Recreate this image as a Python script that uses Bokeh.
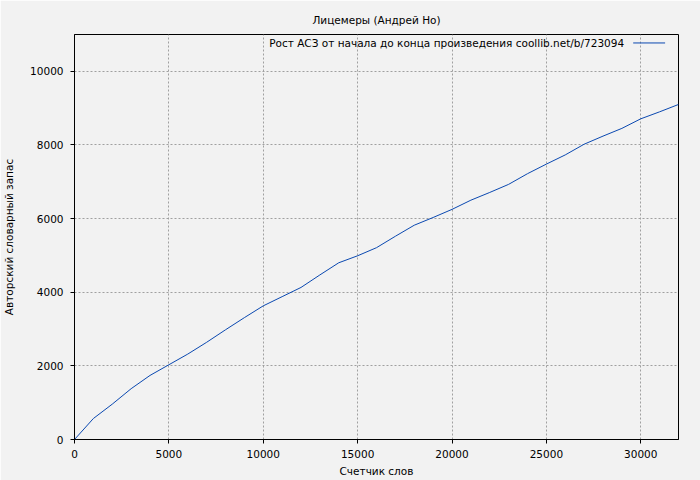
from bokeh.plotting import figure
from bokeh.models import Range1d, FixedTicker, Label, Arrow
from bokeh.embed import file_html
from bokeh.resources import INLINE

# Data
words = [0, 1000, 2000, 3000, 4000, 5000, 6000, 7000, 8000, 9000, 10000,
         11000, 12000, 13000, 14000, 15000, 16000, 17000, 18000, 19000, 20000,
         21000, 22000, 23000, 24000, 25000, 26000, 27000, 28000, 29000, 30000,
         31000, 32000]
vocab = [0, 570, 960, 1380, 1740, 2030, 2320, 2640, 2980, 3310, 3630,
         3880, 4130, 4470, 4800, 4990, 5210, 5520, 5820, 6030, 6250,
         6500, 6710, 6930, 7220, 7480, 7730, 8020, 8240, 8450, 8710,
         8900, 9100]
x_ticks = [0, 5000, 10000, 15000, 20000, 25000, 30000]
y_ticks = [0, 2000, 4000, 6000, 8000, 10000]

title_text = "Лицемеры (Андрей Но)"
legend_text = "Рост АСЗ от начала до конца произведения coollib.net/b/723094"
x_label = "Счетчик слов"
y_label = "Авторский словарный запас"

BG = "#f2f2f2"
LINE = "#0a48b0"
FONT = "DejaVu Sans"
FS = "10.5px"

p = figure(width=700, height=480, output_backend="svg", toolbar_location=None,
           x_range=Range1d(0, 32000), y_range=Range1d(0, 11000),
           min_border_left=74, min_border_right=22, min_border_top=34,
           min_border_bottom=41)
p.background_fill_color = BG
p.border_fill_color = BG
p.outline_line_color = "black"
p.outline_line_width = 1

p.title.text = title_text
p.title.align = "center"
p.title.text_font = FONT
p.title.text_font_size = FS
p.title.text_font_style = "normal"
p.title.text_color = "black"
p.title.standoff = 17

for ax in (p.xaxis[0], p.yaxis[0]):
    ax.axis_line_color = "black"
    ax.major_tick_line_color = "black"
    ax.major_tick_out = 4
    ax.major_tick_in = 0
    ax.minor_tick_line_color = None
    ax.major_label_text_font = FONT
    ax.major_label_text_font_size = FS
    ax.major_label_text_color = "black"
    ax.axis_label_text_font = FONT
    ax.axis_label_text_font_size = FS
    ax.axis_label_text_font_style = "normal"
    ax.axis_label_text_color = "black"

p.xaxis[0].major_label_standoff = 6
p.xaxis[0].axis_label_standoff = 4
p.yaxis[0].major_label_standoff = 7
p.yaxis[0].axis_label_standoff = 12

p.xaxis[0].ticker = FixedTicker(ticks=x_ticks)
p.yaxis[0].ticker = FixedTicker(ticks=y_ticks)
p.xaxis[0].axis_label = x_label
p.yaxis[0].axis_label = y_label
p.xaxis[0].formatter.use_scientific = False
p.yaxis[0].formatter.use_scientific = False

for g in (p.xgrid[0], p.ygrid[0]):
    g.grid_line_color = "#a0a0a0"
    g.grid_line_dash = "2 2"
    g.grid_line_width = 1

p.line(words, vocab, line_color=LINE, line_width=1)

# gnuplot-style key: text then line sample, top right inside the frame
key_y = 10770
p.add_layout(Label(x=29120, y=key_y, text=legend_text, text_align="right",
                   text_baseline="middle", text_font=FONT,
                   text_font_size=FS, text_color="black"))
p.add_layout(Arrow(start=None, end=None, x_start=29600, y_start=key_y,
                   x_end=31290, y_end=key_y, line_color=LINE, line_width=1))

open("out.html", "w").write(file_html(p, INLINE))
